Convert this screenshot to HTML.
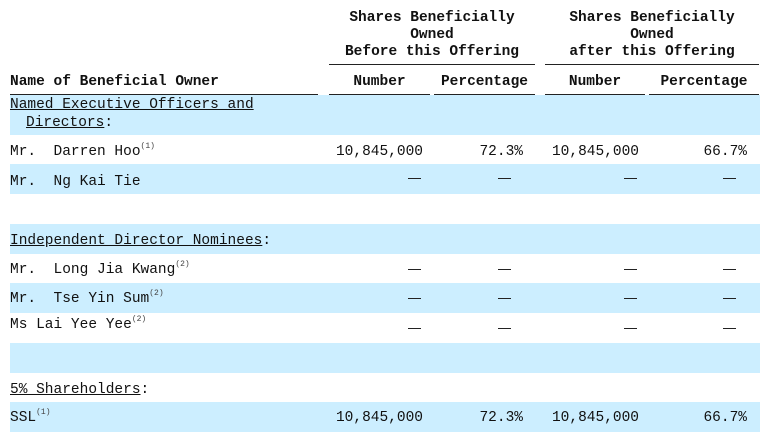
<!DOCTYPE html>
<html><head><meta charset="utf-8"><style>
body{margin:0;width:770px;height:439px;background:#fff;position:relative;overflow:hidden;font-family:"Liberation Mono","WenQuanYi Zen Hei",monospace;font-size:14.5px;color:#111}
.b{position:absolute;left:10px;width:750px;background:#cceeff}
.t{position:absolute;white-space:pre;line-height:16px}
.h{font-weight:bold}
.r{text-align:right}
.c{text-align:center}
.l{position:absolute;height:1px;background:#222}
u{text-decoration:underline}
sup{font-size:8px;vertical-align:baseline;position:relative;top:-7px;line-height:0;color:#444}
</style></head><body>
<div class="b" style="top:95px;height:40px"></div>
<div class="b" style="top:164px;height:30px"></div>
<div class="b" style="top:224px;height:30px"></div>
<div class="b" style="top:283px;height:30px"></div>
<div class="b" style="top:343px;height:30px"></div>
<div class="b" style="top:402px;height:30px"></div>

<div class="t h c" style="left:329px;width:206px;top:10px">Shares Beneficially</div>
<div class="t h c" style="left:329px;width:206px;top:27px">Owned</div>
<div class="t h c" style="left:329px;width:206px;top:44px">Before this Offering</div>
<div class="t h c" style="left:545px;width:214px;top:10px">Shares Beneficially</div>
<div class="t h c" style="left:545px;width:214px;top:27px">Owned</div>
<div class="t h c" style="left:545px;width:214px;top:44px">after this Offering</div>
<div class="l" style="left:329px;width:206px;top:64px"></div>
<div class="l" style="left:545px;width:214px;top:64px"></div>

<div class="t h" style="left:10px;top:74px">Name of Beneficial Owner</div>
<div class="t h c" style="left:329px;width:101px;top:74px">Number</div>
<div class="t h c" style="left:434px;width:101px;top:74px">Percentage</div>
<div class="t h c" style="left:545px;width:100px;top:74px">Number</div>
<div class="t h c" style="left:649px;width:110px;top:74px">Percentage</div>
<div class="l" style="left:10px;width:308px;top:94px"></div>
<div class="l" style="left:329px;width:101px;top:94px"></div>
<div class="l" style="left:434px;width:101px;top:94px"></div>
<div class="l" style="left:545px;width:100px;top:94px"></div>
<div class="l" style="left:649px;width:110px;top:94px"></div>

<div class="t" style="left:10px;top:97px"><u>Named Executive Officers and</u></div>
<div class="t" style="left:26px;top:115px"><u>Directors</u>:</div>

<div class="t" style="left:10px;top:144px">Mr.  Darren Hoo<sup>(1)</sup></div>
<div class="t r" style="left:300px;width:123px;top:144px">10,845,000</div>
<div class="t r" style="left:440px;width:83px;top:144px">72.3%</div>
<div class="t r" style="left:520px;width:119px;top:144px">10,845,000</div>
<div class="t r" style="left:660px;width:87px;top:144px">66.7%</div>

<div class="t" style="left:10px;top:174px">Mr.  Ng Kai Tie</div>
<div class="t" style="left:10px;top:233px"><u>Independent Director Nominees</u>:</div>
<div class="t" style="left:10px;top:262px">Mr.  Long Jia Kwang<sup>(2)</sup></div>
<div class="t" style="left:10px;top:291px">Mr.  Tse Yin Sum<sup>(2)</sup></div>
<div class="t" style="left:10px;top:317px">Ms Lai Yee Yee<sup>(2)</sup></div>
<div class="t" style="left:10px;top:382px"><u>5% Shareholders</u>:</div>

<div class="t" style="left:10px;top:410px">SSL<sup>(1)</sup></div>
<div class="t r" style="left:300px;width:123px;top:410px">10,845,000</div>
<div class="t r" style="left:440px;width:83px;top:410px">72.3%</div>
<div class="t r" style="left:520px;width:119px;top:410px">10,845,000</div>
<div class="t r" style="left:660px;width:87px;top:410px">66.7%</div>

<div class="l" style="left:408px;width:13px;top:178px"></div>
<div class="l" style="left:498px;width:13px;top:178px"></div>
<div class="l" style="left:624px;width:13px;top:178px"></div>
<div class="l" style="left:723px;width:13px;top:178px"></div>
<div class="l" style="left:408px;width:13px;top:269px"></div>
<div class="l" style="left:498px;width:13px;top:269px"></div>
<div class="l" style="left:624px;width:13px;top:269px"></div>
<div class="l" style="left:723px;width:13px;top:269px"></div>
<div class="l" style="left:408px;width:13px;top:298px"></div>
<div class="l" style="left:498px;width:13px;top:298px"></div>
<div class="l" style="left:624px;width:13px;top:298px"></div>
<div class="l" style="left:723px;width:13px;top:298px"></div>
<div class="l" style="left:408px;width:13px;top:328px"></div>
<div class="l" style="left:498px;width:13px;top:328px"></div>
<div class="l" style="left:624px;width:13px;top:328px"></div>
<div class="l" style="left:723px;width:13px;top:328px"></div>
</body></html>
